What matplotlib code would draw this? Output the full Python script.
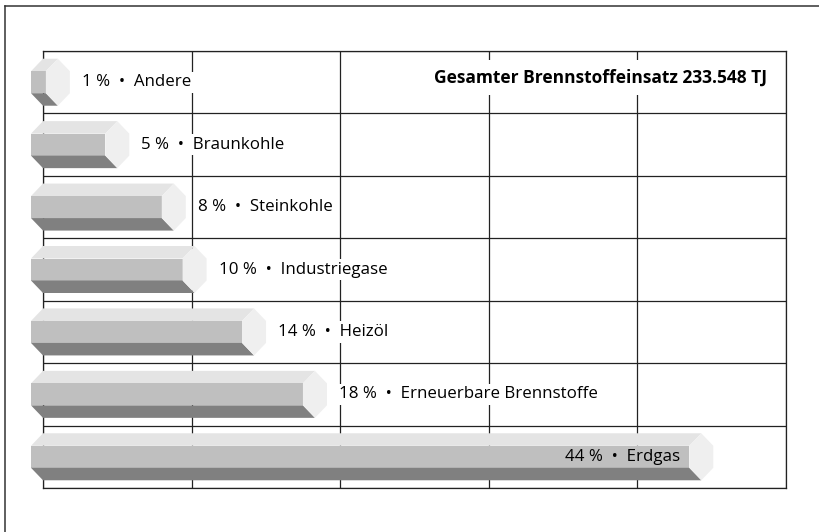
import matplotlib.pyplot as plt
from matplotlib.patches import Polygon
from matplotlib.lines import Line2D

plt.rcParams['font.family'] = ['Open Sans', 'DejaVu Sans']

# shares as drawn (bar lengths, %) and the printed rounded labels
sources = ["Andere", "Braunkohle", "Steinkohle", "Industriegase", "Heizöl",
           "Erneuerbare Brennstoffe", "Erdgas"]
shares = [1.0, 5.0, 8.8, 10.2, 14.2, 18.3, 44.3]
share_labels = [1, 5, 8, 10, 14, 18, 44]
title = "Gesamter Brennstoffeinsatz 233.548 TJ"

W, H = 819, 532
fig = plt.figure(figsize=(W / 100, H / 100), dpi=100)
ax = fig.add_axes([43 / W, 44 / H, 743 / W, 437 / H])
ax.set_xlim(0, 50)
ax.set_ylim(len(sources), 0)

px_x = 50 / 743          # data units per pixel, x
px_y = len(sources) / 437  # data units per pixel, y

# prism geometry (pixels)
d = 12 * px_x
h_out = 23.5 * px_y
h_in = 11 * px_y

top_c, mid_c, bot_c, cap_c = "#e4e4e4", "#bfbfbf", "#808080", "#efefef"

for i, (v, name, lab) in enumerate(zip(shares, sources, share_labels)):
    c = i + 0.5
    yt, y1, y2, yb = c - h_out, c - h_in, c + h_in, c + h_out
    faces = [
        ([(-d, y1), (0, yt), (v, yt), (v - d, y1)], top_c),
        ([(-d, y1), (v - d, y1), (v - d, y2), (-d, y2)], mid_c),
        ([(-d, y2), (v - d, y2), (v, yb), (0, yb)], bot_c),
        ([(v - d, y1), (v, yt), (v + d, y1), (v + d, y2), (v, yb), (v - d, y2)], cap_c),
    ]
    for pts, col in faces:
        ax.add_patch(Polygon(pts, closed=True, facecolor=col, edgecolor="none",
                             clip_on=False, zorder=3))
    text = f"{lab} %  •  {name}"
    if v > 40:
        ax.text(v - d - 9 * px_x, c, text, ha="right", va="center",
                fontsize=12.2, color="black", zorder=4)
    else:
        ax.text(v + d + 12 * px_x, c, text, ha="left", va="center",
                fontsize=12.2, color="black", zorder=4,
                bbox=dict(facecolor="white", edgecolor="none", pad=2))

ax.text(48.7, 0.42, title, ha="right", va="center", fontsize=12.5,
        fontweight="bold", color="black", zorder=4,
        bbox=dict(facecolor="white", edgecolor="none", pad=6))

ax.set_xticks(range(0, 51, 10))
ax.set_yticks(range(0, len(sources) + 1))
ax.grid(True, color="#222222", linewidth=0.9)
ax.set_axisbelow(True)
ax.tick_params(length=0, labelbottom=False, labelleft=False)
for s in ax.spines.values():
    s.set_color("#222222")
    s.set_linewidth(0.9)

# outer frame (top and left edges)
fig.add_artist(Line2D([5 / W, 1], [1 - 5.5 / H, 1 - 5.5 / H], color="#333333", lw=1.1))
fig.add_artist(Line2D([5 / W, 5 / W], [0, 1 - 5.5 / H], color="#333333", lw=1.1))

fig.savefig("out.png", dpi=100)
